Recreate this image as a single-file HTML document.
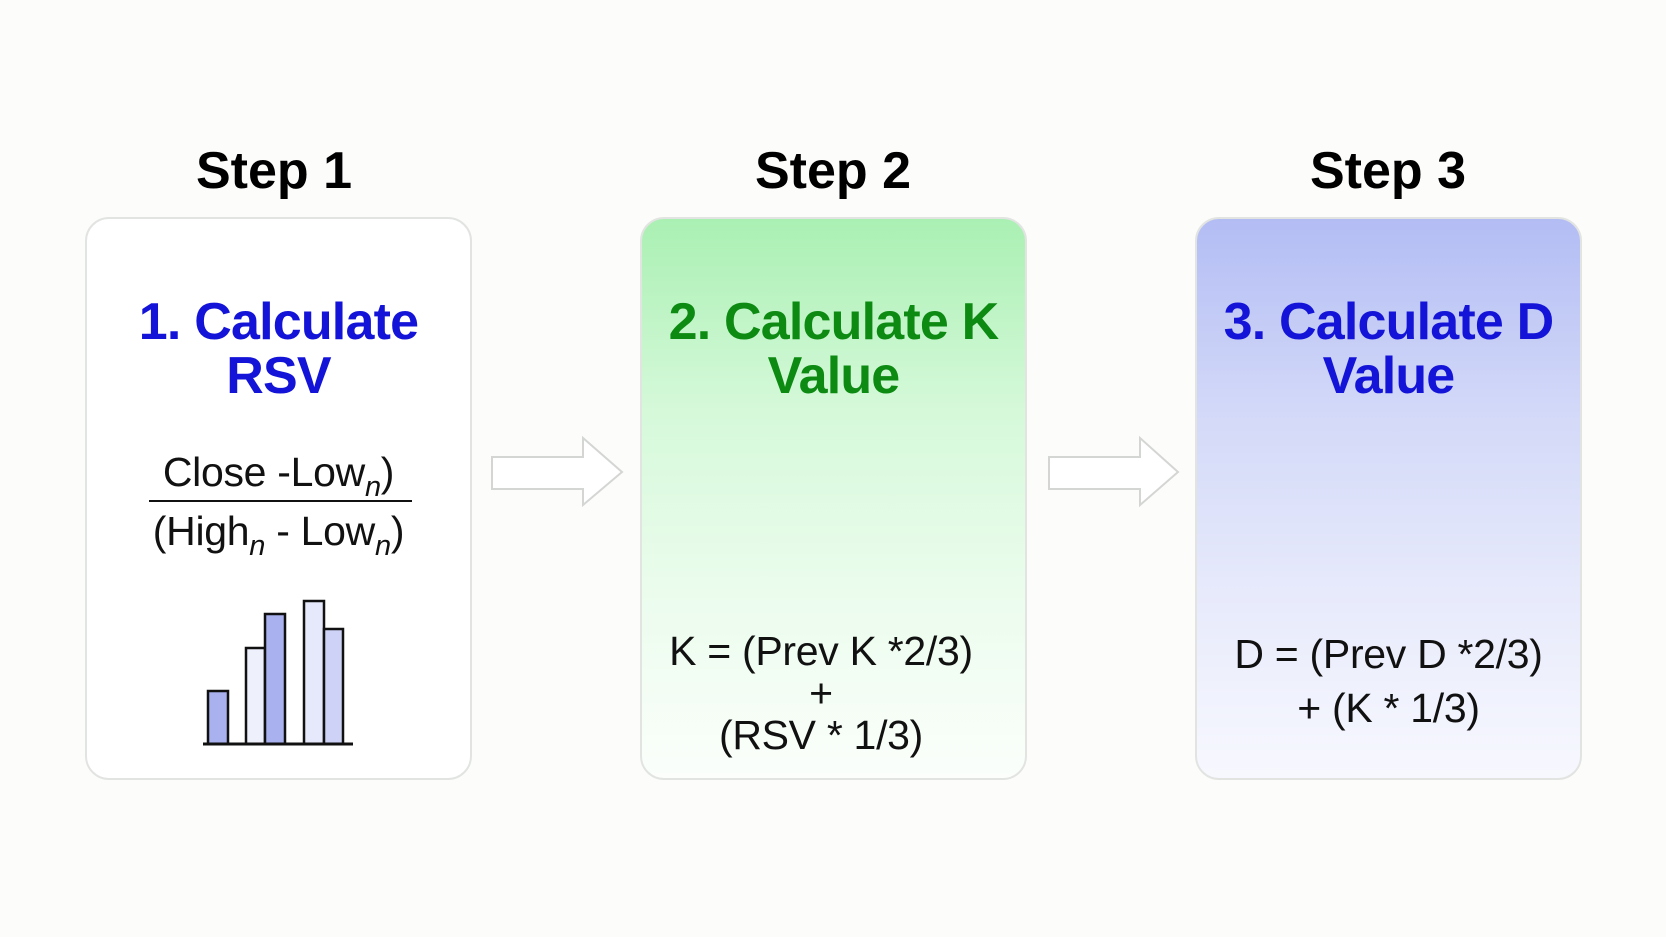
<!DOCTYPE html>
<html><head><style>
body{margin:0;width:1666px;height:937px;background:#fcfdfb;position:relative;overflow:hidden;font-family:"Liberation Sans",Arial,sans-serif}
.t{position:absolute;top:141px;width:300px;text-align:center;font-weight:bold;font-size:52px;color:#000;line-height:60px}
.box{position:absolute;top:217px;width:387px;height:563px;border-radius:24px;border:2px solid #e2e4e2;box-sizing:border-box}
.h{position:absolute;left:-20px;right:-20px;top:76px;text-align:center;font-weight:bold;font-size:52px;line-height:54px;letter-spacing:-0.8px}
.f{position:absolute;left:-20px;right:-20px;text-align:center;font-size:41px;color:#111;line-height:46px;letter-spacing:-0.3px}
sub{font-style:italic;font-size:29px;vertical-align:-10px;line-height:0}
</style></head><body>
<div class="t" style="left:124px">Step 1</div>
<div class="t" style="left:683px">Step 2</div>
<div class="t" style="left:1238px">Step 3</div>

<div class="box" style="left:85px;background:#fff">
  <div class="h" style="color:#1414d8">1. Calculate<br>RSV</div>
  <div class="f" style="top:230px">Close -Low<sub>n</sub>)</div>
  <div style="position:absolute;left:62px;width:263px;top:281px;height:2px;background:#111"></div>
  <div class="f" style="top:289px">(High<sub>n</sub> - Low<sub>n</sub>)</div>
  <svg style="position:absolute;left:0;top:0" width="387" height="563">
    <g stroke="#111" stroke-width="2.5">
      <rect x="121" y="472" width="20" height="53" fill="#a9b1ee"/>
      <rect x="159" y="429" width="19" height="96" fill="#eef0fc"/>
      <rect x="178" y="395" width="20" height="130" fill="#a9b1ee"/>
      <rect x="217" y="382" width="20" height="143" fill="#e6e9fb"/>
      <rect x="237" y="410" width="19" height="115" fill="#cdd2f6"/>
      <line x1="116" y1="525" x2="266" y2="525" stroke-width="3"/>
    </g>
  </svg>
</div>

<div class="box" style="left:640px;background:linear-gradient(#aaf0b3 0%,#d6f9da 35%,#eafcec 65%,#fbfefb 100%)">
  <div class="h" style="color:#0c8a12">2. Calculate K<br>Value</div>
  <div class="f" style="top:411px;line-height:42px;left:-30px;right:-5px">K = (Prev K *2/3)<br>+<br>(RSV * 1/3)</div>
</div>

<div class="box" style="left:1195px;background:linear-gradient(#b3bdf4 0%,#d3d9f8 35%,#e6e9fb 65%,#f7f8fe 100%)">
  <div class="h" style="color:#1414d8">3. Calculate D<br>Value</div>
  <div class="f" style="top:408px;line-height:54px">D = (Prev D *2/3)<br>+ (K * 1/3)</div>
</div>

<svg style="position:absolute;left:0;top:0" width="1666" height="937">
  <g fill="#fff" stroke="#d4d6d4" stroke-width="2">
    <path d="M492 457 H583 V438 L622 472 L583 505 V489 H492 Z"/>
    <path d="M1049 457 H1140 V438 L1178 472 L1140 505 V489 H1049 Z"/>
  </g>
</svg>
</body></html>
